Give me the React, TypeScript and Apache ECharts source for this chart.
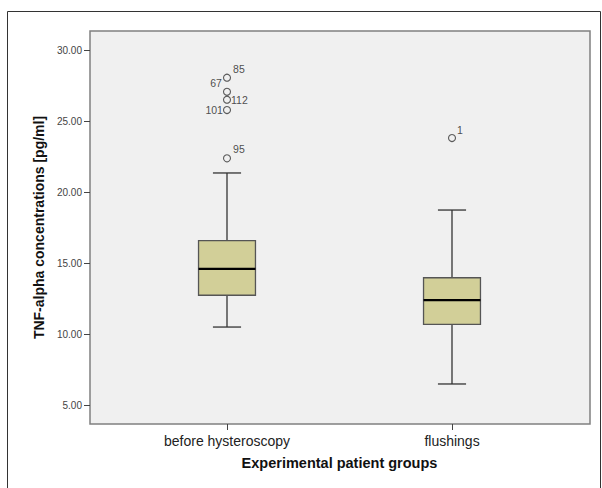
import React, { useEffect, useRef } from "react";
import * as echarts from "echarts";

const categories = ["before hysteroscopy", "flushings"];
// [min, Q1, median, Q3, max]
const boxStats = [
  [10.49, 12.73, 14.58, 16.57, 21.34],
  [6.48, 10.68, 12.39, 13.96, 18.73],
];
const outlierGroup = [0, 0, 0, 0, 0, 1];
const outlierValue = [28.05, 27.06, 26.5, 25.77, 22.37, 23.8];
const outlierId = ["85", "67", "112", "101", "95", "1"];
const yTicks = [5, 10, 15, 20, 25, 30];

const FONT = "'Liberation Sans', Arial, sans-serif";

const labelPlace: Record<string, any> = {
  "85": { position: "right", distance: 2, offset: [0, -9] },
  "67": { position: "left", distance: 1, offset: [0, -9] },
  "112": { position: "right", distance: 0, offset: [0, 0] },
  "101": { position: "left", distance: 0, offset: [0, 0] },
  "95": { position: "right", distance: 2, offset: [0, -9] },
  "1": { position: "right", distance: 1, offset: [0, -8] },
};

export default function App() {
  const ref = useRef<HTMLDivElement>(null);
  useEffect(() => {
    const chart = echarts.init(ref.current!, null, { renderer: "svg" });
    const boxData = boxStats.map((s, i) => [i, ...s]);
    const outData = outlierValue.map((v, i) => ({
      value: [outlierGroup[i], v],
      name: outlierId[i],
      label: { show: true, formatter: outlierId[i], ...labelPlace[outlierId[i]] },
    }));
    chart.setOption({
      animation: false,
      backgroundColor: "#ffffff",
      graphic: [
        {
          type: "rect",
          z: -10,
          silent: true,
          shape: { x: 7.5, y: 11.5, width: 593, height: 500 },
          style: { fill: "#ffffff", stroke: "#333333", lineWidth: 1 },
        },
        {
          type: "rect",
          z: -5,
          silent: true,
          shape: { x: 90, y: 31, width: 500, height: 393 },
          style: { fill: "#f0f0f0", stroke: "#808080", lineWidth: 1.5 },
        },
      ],
      grid: { left: 114.5, right: 37.5, top: 50, bottom: 83, containLabel: false },
      xAxis: {
        type: "category",
        data: categories,
        offset: 19,
        axisLine: { show: false },
        axisTick: { show: true, alignWithLabel: true, length: 6, lineStyle: { color: "#444", width: 1 } },
        axisLabel: { color: "#222", fontFamily: FONT, fontSize: 14, margin: 10 },
        name: "Experimental patient groups",
        nameLocation: "middle",
        nameGap: 31,
        nameTextStyle: { color: "#111", fontFamily: FONT, fontSize: 14.5, fontWeight: "bold" },
      },
      yAxis: {
        type: "value",
        min: yTicks[0],
        max: yTicks[yTicks.length - 1],
        interval: 5,
        offset: 24.5,
        axisLine: { show: false },
        splitLine: { show: false },
        axisTick: { show: true, length: 6, lineStyle: { color: "#444", width: 1 } },
        axisLabel: {
          color: "#444",
          fontFamily: FONT,
          fontSize: 10,
          margin: 8,
          formatter: (v: number) => v.toFixed(2),
        },
        name: "TNF-alpha concentrations [pg/ml]",
        nameLocation: "middle",
        nameGap: 34,
        nameTextStyle: { color: "#111", fontFamily: FONT, fontSize: 14, fontWeight: "bold" },
      },
      series: [
        {
          type: "custom",
          data: boxData,
          encode: { x: 0, y: [1, 2, 3, 4, 5] },
          renderItem: (params: any, api: any) => {
            const idx = api.value(0);
            const mn = api.coord([idx, api.value(1)]);
            const q1 = api.coord([idx, api.value(2)]);
            const md = api.coord([idx, api.value(3)]);
            const q3 = api.coord([idx, api.value(4)]);
            const mx = api.coord([idx, api.value(5)]);
            const band = api.size([1, 0])[0];
            const bw = band * 0.253;
            const cw = band * 0.125;
            const x = mn[0];
            const ls = { stroke: "#333", lineWidth: 1.3 };
            return {
              type: "group",
              children: [
                { type: "line", shape: { x1: x, y1: mx[1], x2: x, y2: q3[1] }, style: ls },
                { type: "line", shape: { x1: x, y1: q1[1], x2: x, y2: mn[1] }, style: ls },
                { type: "line", shape: { x1: x - cw / 2, y1: mx[1], x2: x + cw / 2, y2: mx[1] }, style: ls },
                { type: "line", shape: { x1: x - cw / 2, y1: mn[1], x2: x + cw / 2, y2: mn[1] }, style: ls },
                {
                  type: "rect",
                  shape: { x: x - bw / 2, y: q3[1], width: bw, height: q1[1] - q3[1] },
                  style: { fill: "#d2cf98", stroke: "#555", lineWidth: 1.3 },
                },
                {
                  type: "line",
                  shape: { x1: x - bw / 2, y1: md[1], x2: x + bw / 2, y2: md[1] },
                  style: { stroke: "#000", lineWidth: 2.2 },
                },
              ],
            };
          },
        },
        {
          type: "scatter",
          data: outData,
          symbol: "circle",
          symbolSize: 7,
          itemStyle: { color: "#f0f0f0", borderColor: "#333", borderWidth: 1.1 },
          label: { color: "#222", fontFamily: FONT, fontSize: 10.5 },
          z: 5,
        },
      ],
    });
    return () => chart.dispose();
  }, []);
  return (
    <div
      ref={ref}
      style={{ position: "fixed", left: 0, top: 0, width: 602, height: 488 }}
    />
  );
}
